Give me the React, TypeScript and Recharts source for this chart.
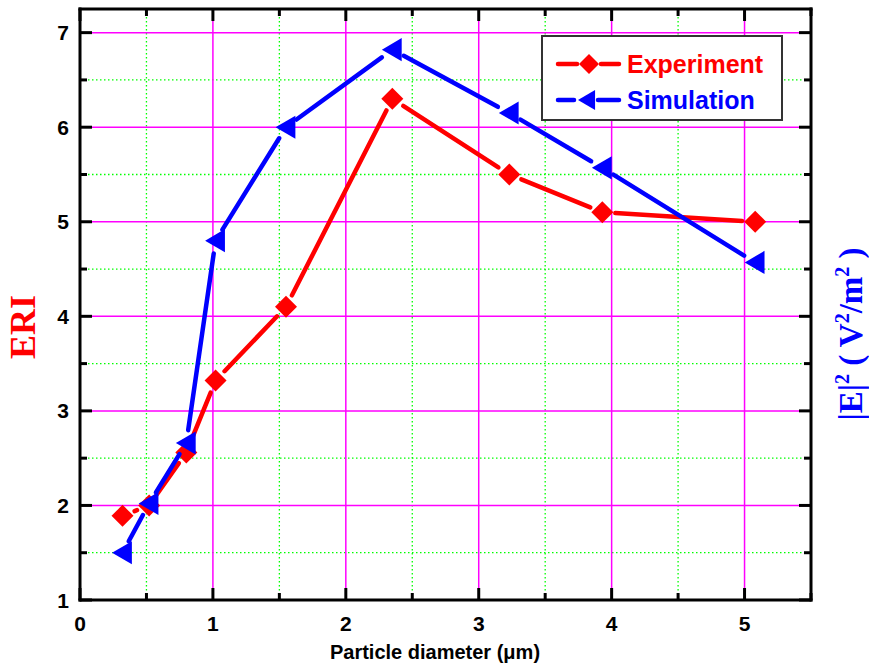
import React from 'react';
import { ComposedChart, Line, XAxis, YAxis, CartesianGrid } from 'recharts';

// ---- data ----
const diameters = [0.32, 0.52, 0.8, 1.02, 1.55, 2.35, 3.23, 3.93, 5.08];
const experiment = [1.89, 2.0, 2.56, 3.32, 4.1, 6.3, 5.5, 5.1, 5.0];
const simulation = [1.5, 2.02, 2.66, 4.8, 6.0, 6.82, 6.15, 5.57, 4.57];

const xTicks = [0, 0.5, 1, 1.5, 2, 2.5, 3, 3.5, 4, 4.5, 5, 5.5];
const yTicks = [1, 1.5, 2, 2.5, 3, 3.5, 4, 4.5, 5, 5.5, 6, 6.5, 7];
const xMajor = [1, 2, 3, 4, 5];
const xMinor = [0.5, 1.5, 2.5, 3.5, 4.5];
const yMajor = [2, 3, 4, 5, 6, 7];
const yMinor = [1.5, 2.5, 3.5, 4.5, 5.5, 6.5];

const seriesNames = ['Experiment', 'Simulation'];
const xTitle = 'Particle diameter (\u03bcm)';
const leftTitle = 'ERI';

const data = diameters.map((d, i) => ({ d, eri: experiment[i], sim: simulation[i] }));

const RED = '#ff0000';
const BLUE = '#0000ff';
const SANS = '"Liberation Sans", Arial, sans-serif';
const SERIF = '"Liberation Serif", "Times New Roman", serif';

const W = 869;
const H = 667;

const isMajor = (v: number) => Math.abs(v - Math.round(v)) < 1e-6;

const makeTick = (orient: 'bottom' | 'top' | 'left' | 'right', labels: boolean) => (props: any) => {
  const { x, y, payload } = props;
  const v = payload.value;
  const major = isMajor(v);
  const len = major ? 12 : 7;
  let ln: any = null;
  if (orient === 'bottom') ln = <line x1={x} y1={y} x2={x} y2={y - len} />;
  if (orient === 'top') ln = <line x1={x} y1={y} x2={x} y2={y + len} />;
  if (orient === 'left') ln = <line x1={x} y1={y} x2={x + len} y2={y} />;
  if (orient === 'right') ln = <line x1={x} y1={y} x2={x - len} y2={y} />;
  let label: any = null;
  if (labels && major) {
    if (orient === 'bottom')
      label = (
        <text x={x} y={y + 31} textAnchor="middle" fontFamily={SANS} fontWeight="bold" fontSize={21} fill="#000">
          {v}
        </text>
      );
    if (orient === 'left')
      label = (
        <text x={x - 11} y={y + 7.5} textAnchor="end" fontFamily={SANS} fontWeight="bold" fontSize={21} fill="#000">
          {v}
        </text>
      );
  }
  return (
    <g>
      <g stroke="#000" strokeWidth={3}>{ln}</g>
      {label}
    </g>
  );
};

const Diamond = ({ cx, cy, r, color }: any) => (
  <polygon points={`${cx},${cy - r} ${cx + r},${cy} ${cx},${cy + r} ${cx - r},${cy}`} fill={color} />
);
const LeftTri = ({ cx, cy, r, color }: any) => (
  <polygon
    points={`${cx - r * 0.95},${cy} ${cx + r * 0.85},${cy - r * 1.05} ${cx + r * 0.85},${cy + r * 1.05}`}
    fill={color}
  />
);

const makeDot = (color: string, shape: 'diamond' | 'tri') => (props: any) => {
  const { cx, cy, index, points } = props;
  const next = points && points[index + 1];
  let seg: any = null;
  const g = 13;
  if (next) {
    const dx = next.x - cx;
    const dy = next.y - cy;
    const L = Math.hypot(dx, dy);
    if (L > 2 * g - 2) {
      seg = (
        <line
          x1={cx + (dx / L) * g}
          y1={cy + (dy / L) * g}
          x2={next.x - (dx / L) * g}
          y2={next.y - (dy / L) * g}
          stroke={color}
          strokeWidth={4.5}
          strokeLinecap="round"
        />
      );
    }
  }
  return (
    <g key={`d-${shape}-${index}`}>
      {seg}
      {shape === 'diamond' ? <Diamond cx={cx} cy={cy} r={11} color={color} /> : <LeftTri cx={cx} cy={cy} r={11} color={color} />}
    </g>
  );
};

const axisLineStyle = { stroke: '#000', strokeWidth: 3, strokeLinecap: 'square' } as any;

export default function App() {
  return (
    <div style={{ position: 'absolute', left: 0, top: 0, width: W, height: H, background: '#fff' }}>
      <ComposedChart width={W} height={H} data={data} margin={{ top: 8, right: 57, bottom: 27, left: 20 }}>
        <CartesianGrid
          horizontalValues={yMinor}
          verticalValues={xMinor}
          stroke="#00ff00"
          strokeWidth={1.3}
          strokeDasharray="1.5 2.5"
          fill="none"
        />
        <CartesianGrid horizontalValues={yMajor} verticalValues={xMajor} stroke="#ff00ff" strokeWidth={1.5} fill="none" />
        <XAxis
          type="number"
          dataKey="d"
          domain={[0, 5.5]}
          ticks={xTicks}
          interval={0}
          height={40}
          tickSize={0}
          tickMargin={0}
          tickLine={false}
          axisLine={axisLineStyle}
          tick={makeTick('bottom', true)}
          allowDataOverflow
        />
        <XAxis
          xAxisId="top"
          orientation="top"
          type="number"
          dataKey="d"
          domain={[0, 5.5]}
          ticks={xTicks}
          interval={0}
          height={1}
          tickSize={0}
          tickMargin={0}
          tickLine={false}
          axisLine={axisLineStyle}
          tick={makeTick('top', false)}
          allowDataOverflow
        />
        <YAxis
          type="number"
          domain={[1, 7.25]}
          ticks={yTicks}
          interval={0}
          width={60}
          tickSize={0}
          tickMargin={0}
          tickLine={false}
          axisLine={axisLineStyle}
          tick={makeTick('left', true)}
          allowDataOverflow
        />
        <YAxis
          yAxisId="right"
          orientation="right"
          type="number"
          domain={[1, 7.25]}
          ticks={yTicks}
          interval={0}
          width={1}
          tickSize={0}
          tickMargin={0}
          tickLine={false}
          axisLine={axisLineStyle}
          tick={makeTick('right', false)}
          allowDataOverflow
        />
        <Line
          dataKey="eri"
          name={seriesNames[0]}
          stroke="none"
          dot={makeDot(RED, 'diamond')}
          activeDot={false}
          isAnimationActive={false}
        />
        <Line
          dataKey="sim"
          name={seriesNames[1]}
          stroke="none"
          dot={makeDot(BLUE, 'tri')}
          activeDot={false}
          isAnimationActive={false}
        />
      </ComposedChart>
      <svg
        width={W}
        height={H}
        style={{ position: 'absolute', left: 0, top: 0, pointerEvents: 'none' }}
      >
        {/* legend */}
        <rect x={542} y={36} width={240} height={84} fill="#fff" stroke="#333" strokeWidth={2} />
        <line x1={558} y1={64} x2={577} y2={64} stroke={RED} strokeWidth={4.5} strokeLinecap="round" />
        <line x1={601} y1={64} x2={619} y2={64} stroke={RED} strokeWidth={4.5} strokeLinecap="round" />
        <Diamond cx={589} cy={64} r={10} color={RED} />
        <text x={627} y={73} fontFamily={SANS} fontWeight="bold" fontSize={25} fill={RED}>
          {seriesNames[0]}
        </text>
        <line x1={558} y1={100} x2={574} y2={100} stroke={BLUE} strokeWidth={4.5} strokeLinecap="round" />
        <line x1={598} y1={100} x2={619} y2={100} stroke={BLUE} strokeWidth={4.5} strokeLinecap="round" />
        <LeftTri cx={587} cy={100} r={9.5} color={BLUE} />
        <text x={627} y={109} fontFamily={SANS} fontWeight="bold" fontSize={25} fill={BLUE}>
          {seriesNames[1]}
        </text>
        {/* axis titles */}
        <text x={435} y={659} textAnchor="middle" fontFamily={SANS} fontWeight="bold" fontSize={20} fill="#000">
          {xTitle}
        </text>
        <text
          transform="translate(35,327) rotate(-90)"
          textAnchor="middle"
          fontFamily={SERIF}
          fontWeight="bold"
          fontSize={36}
          fill={RED}
        >
          {leftTitle}
        </text>
        <text
          transform="translate(862,334) rotate(-90)"
          textAnchor="middle"
          fontFamily={SERIF}
          fontWeight="bold"
          fontSize={33}
          fill={BLUE}
        >
          |E|
          <tspan dy={-13} fontSize={20}>2</tspan>
          <tspan dy={13}>{' ( V'}</tspan>
          <tspan dy={-13} fontSize={20}>2</tspan>
          <tspan dy={13}>/m</tspan>
          <tspan dy={-13} fontSize={20}>2</tspan>
          <tspan dy={13}>{' )'}</tspan>
        </text>
      </svg>
    </div>
  );
}
